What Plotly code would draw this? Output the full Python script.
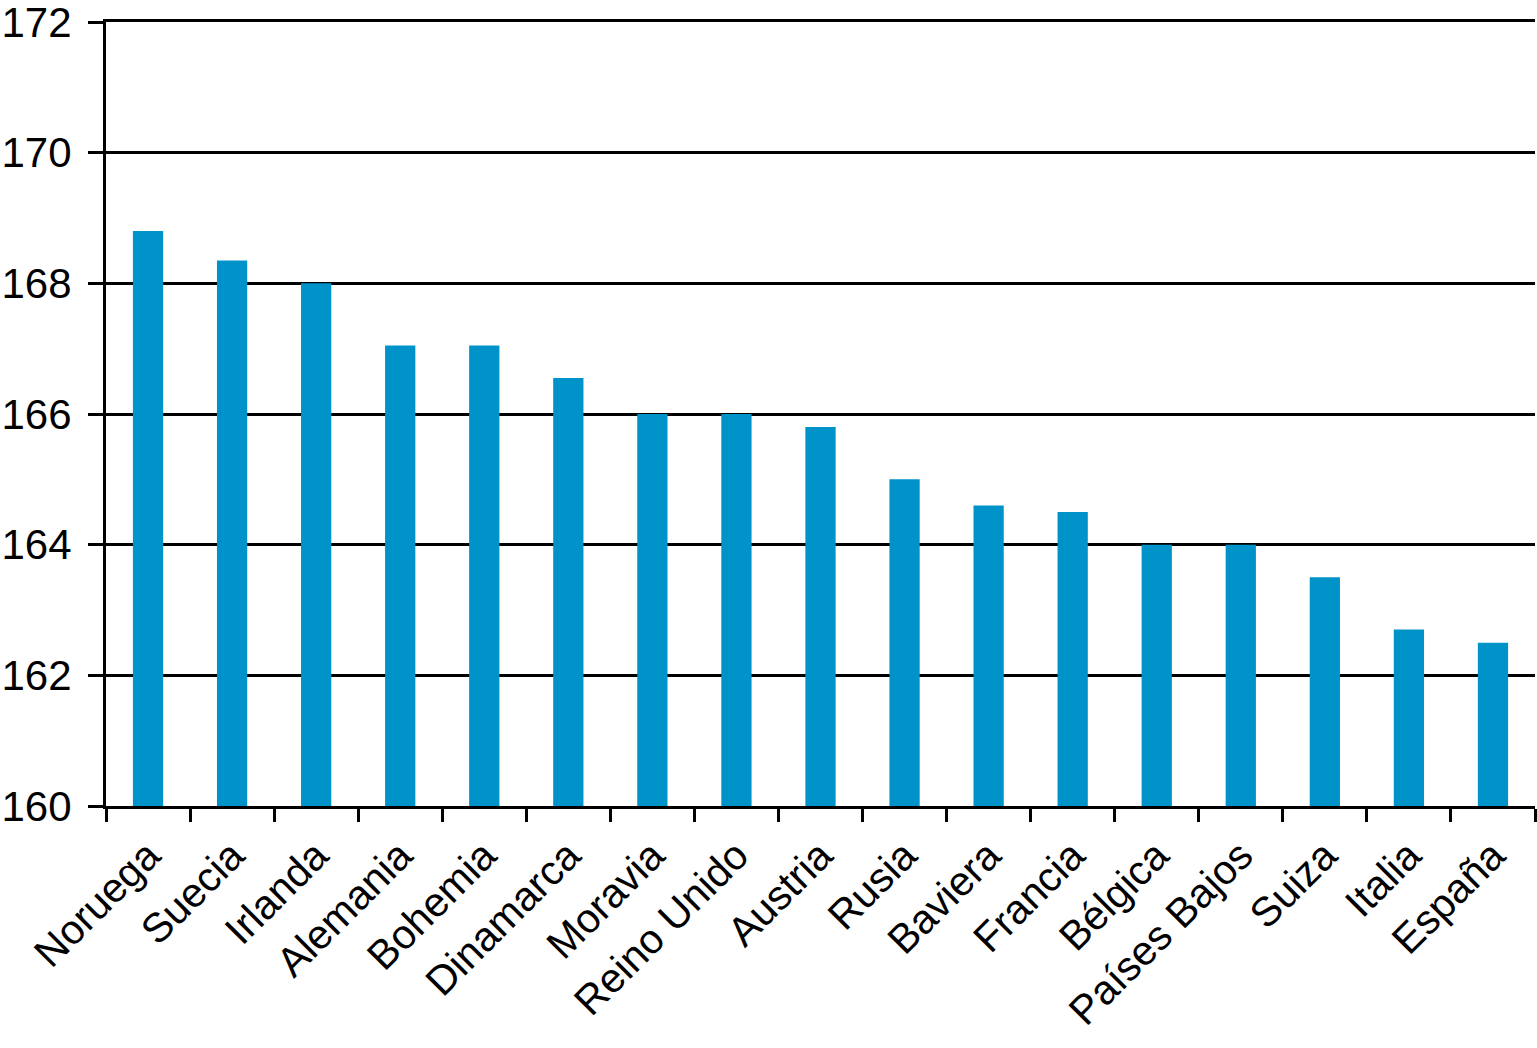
import plotly.graph_objects as go

countries = ["Noruega", "Suecia", "Irlanda", "Alemania", "Bohemia", "Dinamarca",
             "Moravia", "Reino Unido", "Austria", "Rusia", "Baviera", "Francia",
             "Bélgica", "Países Bajos", "Suiza", "Italia", "España"]
heights = [168.8, 168.35, 168.0, 167.05, 167.05, 166.55, 166.0, 166.0, 165.8,
           165.0, 164.6, 164.5, 164.0, 164.0, 163.5, 162.7, 162.5]
y_ticks = [160, 162, 164, 166, 168, 170, 172]

fig = go.Figure(go.Bar(x=countries, y=heights, marker_color="#0093C9",
                       marker_line_width=0))

font = "Liberation Sans, Arial, Helvetica, sans-serif"
fig.update_layout(
    width=1537, height=1048,
    margin=dict(l=106, r=2, t=22, b=242, autoexpand=False),
    paper_bgcolor="white", plot_bgcolor="white",
    bargap=0.64,
    showlegend=False,
    font=dict(family=font, size=41, color="black"),
)
fig.update_yaxes(range=[160, 172], tickvals=y_ticks, showgrid=True,
                 gridcolor="black", gridwidth=3, showline=True, linecolor="black",
                 linewidth=3, ticks="outside", ticklen=15, tickwidth=3,
                 tickcolor="black", tickfont=dict(size=42), zeroline=False,
                 automargin=False, ticklabeloverflow="allow",
                 ticklabelstandoff=8)
fig.update_xaxes(type="category", tickangle=-45, showline=True, linecolor="black",
                 linewidth=3, ticks="outside", ticklen=13, tickwidth=3,
                 tickcolor="black", tickson="boundaries", showgrid=False,
                 mirror=True, tickfont=dict(size=41), automargin=False,
                 ticklabeloverflow="allow", ticklabelstandoff=6)

fig.write_html("out.html", config={"displayModeBar": False},
               post_script="document.body.style.margin='0';document.body.style.overflow='hidden';")
